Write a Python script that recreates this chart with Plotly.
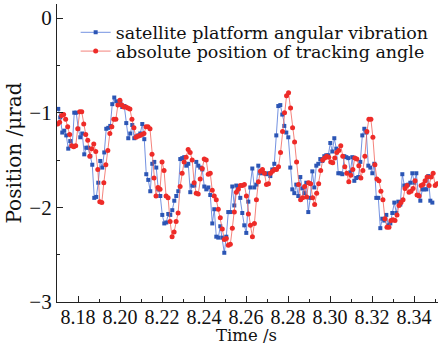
import numpy as np
import plotly.graph_objects as go

# ---- data ----
blue_t_start, blue_t_end = 8.1706, 8.3487
blue_vals = [
    -0.96, -1.05, -1.21, -1.19, -1.24, -1.38, -1.30, -1.35, -1.00, -1.00,
    -1.17, -1.26, -1.22, -1.44, -1.37, -1.37, -1.46, -1.55, -1.90, -1.89,
    -1.74, -1.51, -1.58, -1.42, -1.17, -1.16, -1.14, -0.91, -0.84, -0.88,
    -0.91, -0.89, -0.94, -0.93, -1.11, -1.27, -1.22, -1.13,
    -1.27, -1.25, -1.24, -1.22, -1.12, -1.28, -1.65, -1.71, -1.83, -1.54,
    -1.52, -1.58, -1.81, -1.88, -2.08, -2.17, -2.16, -2.07, -2.08, -2.03,
    -1.93, -1.88, -1.83, -1.49, -1.48, -1.47, -1.56, -1.54, -1.84, -1.77,
    -1.77, -1.52, -1.56, -1.58, -1.60, -1.78, -1.81,
    -1.79, -1.87, -2.17, -2.02, -2.31, -2.32, -2.20, -2.32, -2.48, -2.31,
    -2.05, -2.05, -1.78, -1.98, -1.77, -1.78, -1.90, -2.06, -2.19, -2.27,
    -1.94, -1.79, -1.59, -1.79, -1.76, -1.56, -1.64, -1.63, -1.64, -1.65,
    -1.64, -1.67, -1.60, -1.54, -1.24, -0.93, -0.92, -1.02,
    -1.14, -1.21, -1.26, -1.58, -1.81, -1.85, -1.76, -1.88, -1.68, -1.80,
    -1.85, -1.74, -2.05, -1.90, -1.62, -1.79, -1.56, -1.54, -1.49, -1.51,
    -1.46, -1.45, -1.45, -1.32, -1.41, -1.27, -1.38, -1.64, -1.64, -1.65,
    -1.46, -1.47, -1.48, -1.63, -1.47, -1.72, -1.69, -1.68,
    -1.52, -1.24, -1.17, -1.21, -1.56, -1.58, -1.64, -1.54, -1.90, -1.90,
    -2.22, -2.12, -2.14, -2.08, -2.19, -2.17, -2.06, -1.95, -2.06, -1.94,
    -1.97, -1.65, -1.77, -1.77, -1.76, -1.74, -1.64, -1.74, -1.64, -1.87,
    -1.93, -1.81, -1.81, -1.81, -1.67, -1.93, -1.95,
]

red_t_start, red_t_end = 8.1703, 8.3510
red_vals = [
    -1.12, -1.10, -1.03, -1.02, -1.07, -1.15, -1.23, -1.35, -1.36, -1.35,
    -1.17, -0.99, -0.99, -1.12, -1.23, -1.29, -1.46, -1.38, -1.33, -1.41,
    -1.60, -1.94, -1.95, -1.74, -1.55, -1.40, -1.22, -1.15, -1.07, -1.07,
    -0.92, -0.87, -0.92, -0.94, -0.94, -0.95, -0.96, -1.07, -1.16,
    -1.26, -1.25, -1.24, -1.23, -1.22, -1.15, -1.15, -1.17, -1.44, -1.69,
    -1.88, -1.79, -1.81, -1.52, -1.61, -1.88, -1.90, -2.15, -2.31, -2.26,
    -2.15, -2.06, -1.78, -1.64, -1.52, -1.47, -1.39, -1.42, -1.50, -1.74,
    -1.85, -1.86, -1.70, -1.59, -1.49, -1.50, -1.65,
    -1.64, -1.82, -1.88, -1.92, -2.02, -2.11, -2.23, -2.34, -2.33, -2.40,
    -2.39, -2.22, -2.05, -1.84, -1.81, -1.77, -1.77, -1.76, -1.88, -2.07,
    -2.19, -2.31, -2.17, -1.92, -1.73, -1.62, -1.60, -1.64, -1.76, -1.75,
    -1.64, -1.62, -1.60, -1.60, -1.57, -1.42, -1.20, -1.00,
    -0.82, -0.79, -0.95, -1.16, -1.31, -1.52, -1.76, -1.92, -1.90, -1.78,
    -1.89, -1.74, -1.75, -1.90, -1.97, -1.85, -1.75, -1.61, -1.50, -1.48,
    -1.46, -1.47, -1.52, -1.53, -1.48, -1.42, -1.40, -1.35, -1.46, -1.57,
    -1.64, -1.73, -1.66, -1.60, -1.48, -1.49, -1.56,
    -1.69, -1.61, -1.46, -1.20, -1.07, -1.07, -1.26, -1.55, -1.70, -1.72,
    -1.83, -1.92, -2.12, -2.21, -2.21, -2.14, -2.13, -2.14, -2.08, -1.98,
    -1.95, -1.92, -1.80, -1.77, -1.84, -1.83, -1.80, -1.72, -1.87, -1.88,
    -1.77, -1.76, -1.72, -1.68, -1.77, -1.68, -1.64, -1.77, -1.75,
]

series_names = ["satellite platform angular vibration",
                "absolute position of tracking angle"]
x_tickvals = [8.18, 8.20, 8.22, 8.24, 8.26, 8.28, 8.30, 8.32, 8.34]
y_tickvals = [0, -1, -2, -3]

blue_t = np.linspace(blue_t_start, blue_t_end, len(blue_vals))
red_t = np.linspace(red_t_start, red_t_end, len(red_vals))

TICKFONT = "Liberation Serif"
TEXTFONT = "DejaVu Serif"

fig = go.Figure()
fig.add_trace(go.Scatter(
    x=blue_t, y=blue_vals, mode="lines+markers", name=series_names[0],
    line=dict(color="rgba(70,110,215,0.75)", width=1),
    marker=dict(symbol="square", size=4, color="#2b55b5"),
    legend="legend",
))
fig.add_trace(go.Scatter(
    x=red_t, y=red_vals, mode="lines+markers", name=series_names[1],
    line=dict(color="rgba(240,90,80,0.75)", width=1),
    marker=dict(symbol="circle", size=5, color="#ee2b28"),
    legend="legend2",
))

leg_common = dict(xanchor="left", yanchor="top", bgcolor="rgba(0,0,0,0)",
                  font=dict(family=TEXTFONT, size=17.5, color="#111"),
                  itemwidth=30, borderwidth=0)

fig.update_layout(
    width=438, height=346,
    margin=dict(l=57, r=0, t=4, b=44, autoexpand=False),
    paper_bgcolor="white", plot_bgcolor="white",
    font=dict(family=TICKFONT, size=20, color="#111"),
    showlegend=True,
    legend=dict(x=0.049, y=0.965, **leg_common),
    legend2=dict(x=0.049, y=0.902, **leg_common),
    xaxis=dict(
        range=[8.17, 8.3514], tickvals=x_tickvals,
        ticktext=[f"{v:.2f}" for v in x_tickvals],
        ticks="inside", ticklen=6, tickwidth=1, tickcolor="#222",
        minor=dict(dtick=0.01, tick0=8.17, ticks="inside", ticklen=3, tickcolor="#222"),
        showline=True, linecolor="#222", linewidth=1.2,
        showgrid=False, zeroline=False,
        tickfont=dict(family=TICKFONT, size=20),
        tickangle=0,
        ticklabelstandoff=-3,
    ),
    yaxis=dict(
        range=[-3, 0.148], tickvals=y_tickvals,
        ticks="inside", ticklen=6, tickwidth=1, tickcolor="#222",
        minor=dict(dtick=0.5, tick0=0, ticks="inside", ticklen=3, tickcolor="#222"),
        showline=True, linecolor="#222", linewidth=1.2,
        showgrid=False, zeroline=False,
        tickfont=dict(family=TICKFONT, size=21),
        title=dict(text="Position /μrad", font=dict(family=TEXTFONT, size=20), standoff=2),
    ),
    annotations=[dict(
        text="Time /s", xref="paper", yref="paper", x=0.498, y=-0.1477,
        xanchor="center", yanchor="bottom", showarrow=False, borderpad=0,
        font=dict(family=TEXTFONT, size=16.5, color="#111"),
    )],
)

fig.write_html("out.html")
